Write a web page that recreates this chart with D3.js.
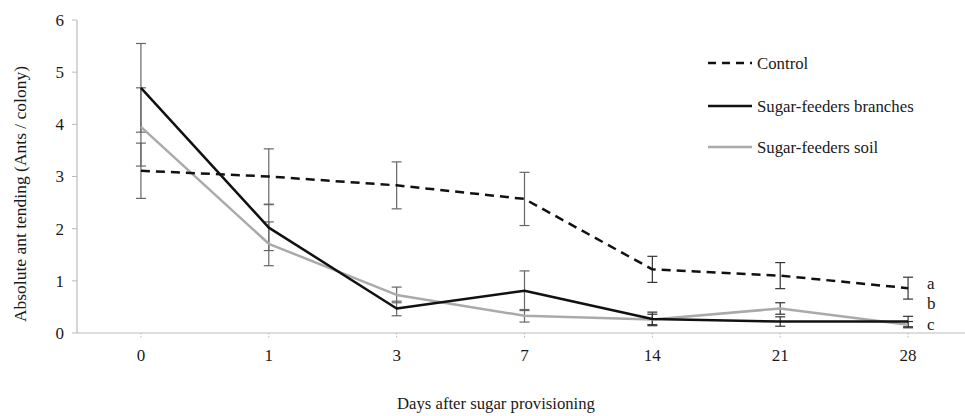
<!DOCTYPE html>
<html><head><meta charset="utf-8">
<script src="https://cdn.jsdelivr.net/npm/d3@7/dist/d3.min.js"></script>
<style>body{margin:0;background:#fff}svg{display:block}text{font-family:"Liberation Serif","DejaVu Serif",serif;fill:#1a1a1a}</style>
</head><body><svg id="c" width="965" height="416"></svg>
<script>
const days = ["0","1","3","7","14","21","28"];
const yTicks = [0,1,2,3,4,5,6];
const seriesNames = ["Control","Sugar-feeders branches","Sugar-feeders soil"];
const controlMean = [3.11,3.00,2.83,2.57,1.22,1.10,0.86];
const controlErr  = [0.53,0.53,0.45,0.51,0.25,0.25,0.21];
const branchesMean = [4.70,2.02,0.47,0.81,0.27,0.22,0.22];
const branchesErr  = [0.85,0.44,0.14,0.38,0.13,0.09,0.10];
const soilMean = [3.95,1.71,0.73,0.33,0.26,0.47,0.16];
const soilErr  = [0.75,0.42,0.15,0.12,0.10,0.11,0.06];
const sigLetters = ["a","b","c"];

const svg = d3.select("#c");
const x = d3.scaleBand().domain(days).range([77,972]);
const y = d3.scaleLinear().domain([0,6]).range([333,20]);
const cx = d => x(d) + x.bandwidth()/2;

// axes
svg.append("line").attr("x1",77).attr("x2",972).attr("y1",y(0)).attr("y2",y(0)).attr("stroke","#bbb").attr("stroke-width",1.2);
svg.append("line").attr("x1",77).attr("x2",77).attr("y1",y(0)).attr("y2",y(6)).attr("stroke","#bbb").attr("stroke-width",1.2);
yTicks.forEach(t=>{
  svg.append("line").attr("x1",72).attr("x2",77).attr("y1",y(t)).attr("y2",y(t)).attr("stroke","#bbb");
  svg.append("text").attr("x",64).attr("y",y(t)).attr("dy","0.35em").attr("text-anchor","end").attr("font-size",17).text(t);
});
days.forEach(d=>{
  svg.append("line").attr("x1",cx(d)).attr("x2",cx(d)).attr("y1",y(0)).attr("y2",y(0)+5).attr("stroke","#bbb").attr("stroke-dasharray","1.5,1.5");
  svg.append("text").attr("x",cx(d)).attr("y",355).attr("dy","0.35em").attr("text-anchor","middle").attr("font-size",17).text(d);
});
svg.append("text").attr("x",496).attr("y",403).attr("dy","0.35em").attr("text-anchor","middle").attr("font-size",16.7).text("Days after sugar provisioning");
svg.append("text").attr("transform","translate(20,194) rotate(-90)").attr("dy","0.35em").attr("text-anchor","middle").attr("font-size",17.5).text("Absolute ant tending (Ants / colony)");

const series = [
  {name:seriesNames[0], mean:controlMean, err:controlErr, color:"#111", dash:"9,6"},
  {name:seriesNames[1], mean:branchesMean, err:branchesErr, color:"#111", dash:null},
  {name:seriesNames[2], mean:soilMean, err:soilErr, color:"#aaa", dash:null}
];
const line = d3.line().x((v,i)=>cx(days[i])).y(v=>y(v));

// error bars
series.forEach(s=>{
  s.mean.forEach((m,i)=>{
    const xc = cx(days[i]);
    const col = i<4 ? "#666" : "#333";
    const g = svg.append("g").attr("stroke",col).attr("stroke-width",1.2);
    g.append("line").attr("x1",xc).attr("x2",xc).attr("y1",y(m+s.err[i])).attr("y2",y(m-s.err[i]));
    g.append("line").attr("x1",xc-5).attr("x2",xc+5).attr("y1",y(m+s.err[i])).attr("y2",y(m+s.err[i]));
    g.append("line").attr("x1",xc-5).attr("x2",xc+5).attr("y1",y(m-s.err[i])).attr("y2",y(m-s.err[i]));
  });
});
// lines
[series[2],series[1],series[0]].forEach(s=>{
  const p = svg.append("path").attr("d",line(s.mean)).attr("fill","none").attr("stroke",s.color).attr("stroke-width",2.5).attr("stroke-linejoin","round");
  if(s.dash) p.attr("stroke-dasharray",s.dash);
});

// significance letters
const lx = cx(days[6]) + 19;
[284,304,325].forEach((py,i)=>{
  svg.append("text").attr("x",lx).attr("y",py).attr("dy","0.3em").attr("font-size",17).text(sigLetters[i]);
});

// legend
const ly = [63,106,147];
series.forEach((s,i)=>{
  const l = svg.append("line").attr("x1",708).attr("x2",752).attr("y1",ly[i]).attr("y2",ly[i]).attr("stroke",s.color).attr("stroke-width",2.5);
  if(s.dash) l.attr("stroke-dasharray","8,6");
  svg.append("text").attr("x",757).attr("y",ly[i]).attr("dy","0.35em").attr("font-size",16.8).text(s.name);
});
</script></body></html>
